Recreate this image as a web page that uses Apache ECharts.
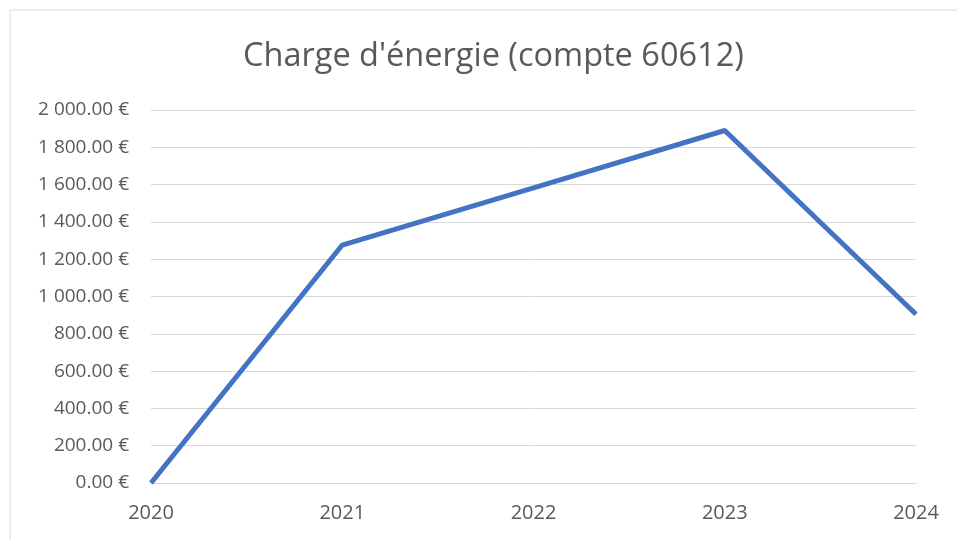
<!DOCTYPE html>
<html>
<head>
<meta charset="utf-8">
<script src="https://cdn.jsdelivr.net/npm/echarts@6/dist/echarts.min.js"></script>
<style>
  html, body { margin: 0; padding: 0; background: #fff; }
  #res { width: 957px; height: 540px; }
</style>
</head>
<body>
<div id="res"></div>
<script>
// données
var annees = ['2020', '2021', '2022', '2023', '2024'];
var charges = [0, 1276, 1582, 1890, 905];
var titre = "Charge d'énergie (compte 60612)";

function euros(v) {
    var s = v.toFixed(2).split('.');
    var ent = s[0].replace(/\B(?=(\d{3})+(?!\d))/g, ' ');
    return ent + '.' + s[1] + ' €';
}

var myChart = echarts.init(document.getElementById('res'));
var option = {
    animation: false,
    textStyle: { fontFamily: 'Open Sans' },
    graphic: [{
        type: 'rect',
        shape: { x: 10, y: 10, width: 960, height: 540 },
        style: { fill: 'none', stroke: '#d9d9d9', lineWidth: 1 }
    }],
    title: {
        text: titre,
        left: 238,
        top: 35,
        textStyle: { fontFamily: 'Open Sans', fontSize: 32.5, fontWeight: 'normal', color: '#595959' }
    },
    grid: { left: 151, right: 41, top: 110, bottom: 57 },
    xAxis: {
        type: 'category',
        data: annees,
        boundaryGap: false,
        axisLine: { lineStyle: { color: '#d9d9d9' } },
        axisTick: { show: false },
        axisLabel: { color: '#595959', fontSize: 20, margin: 20 }
    },
    yAxis: {
        type: 'value',
        min: 0,
        max: 2000,
        interval: 200,
        axisLine: { show: false },
        axisTick: { show: false },
        splitLine: { lineStyle: { color: '#d9d9d9', width: 1 } },
        axisLabel: { color: '#595959', fontSize: 19, margin: 22, formatter: euros }
    },
    series: [{
        name: titre,
        type: 'line',
        data: charges,
        showSymbol: false,
        lineStyle: { color: '#4472C4', width: 5 },
        itemStyle: { color: '#4472C4' }
    }]
};
myChart.setOption(option);
</script>
</body>
</html>
